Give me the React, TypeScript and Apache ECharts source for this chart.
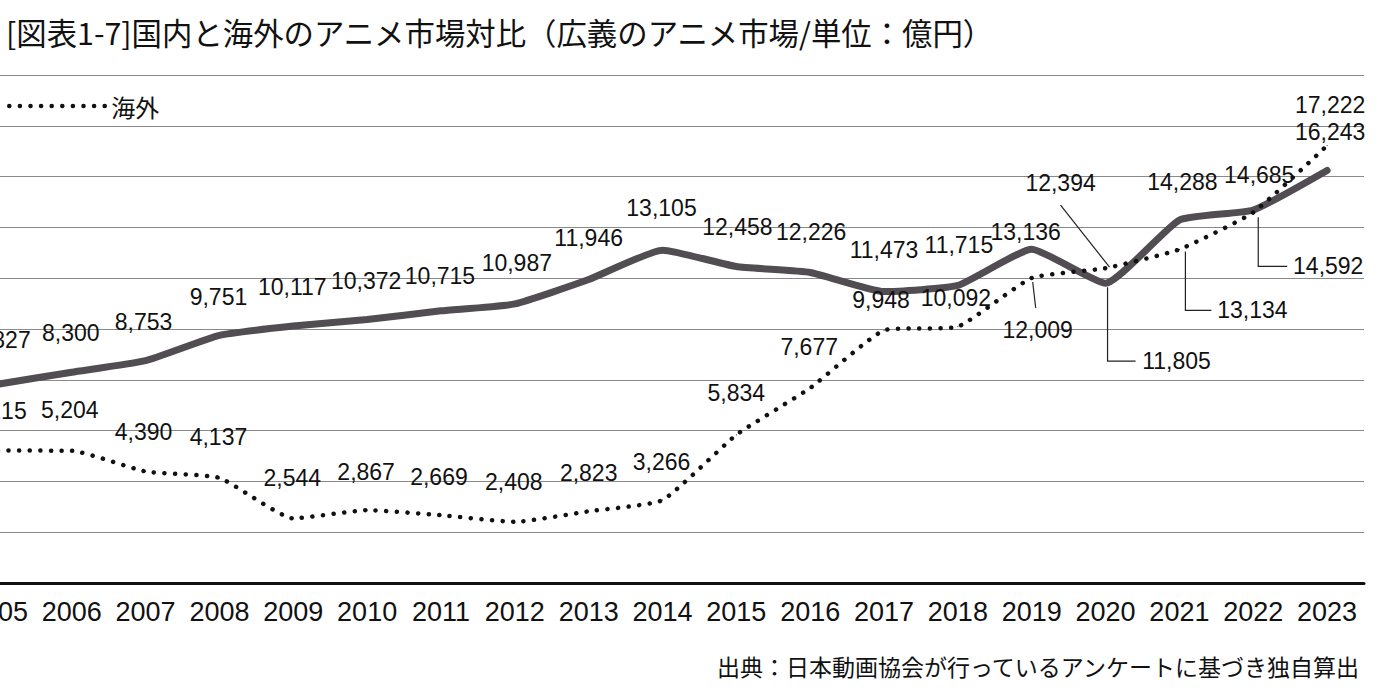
import React, { useEffect, useRef } from 'react';
import * as echarts from 'echarts';

const years = ['2005', '2006', '2007', '2008', '2009', '2010', '2011', '2012', '2013', '2014', '2015', '2016', '2017', '2018', '2019', '2020', '2021', '2022', '2023'];
const domestic = [7827, 8300, 8753, 9751, 10117, 10372, 10715, 10987, 11946, 13105, 12458, 12226, 11473, 11715, 13136, 11805, 14288, 14685, 16243];
const overseas = [5215, 5204, 4390, 4137, 2544, 2867, 2669, 2408, 2823, 3266, 5834, 7677, 9948, 10092, 12009, 12394, 13134, 14592, 17222];
const yMin = 0;
const yMax = 20000;
const yStep = 2000;

const titleText = '[図表1-7]国内と海外のアニメ市場対比（広義のアニメ市場/単位：億円）';
const sourceText = '出典：日本動画協会が行っているアンケートに基づき独自算出';

// label offsets (pixels, label centre relative to the point)
const domesticLabelOffsets: number[][] = [
  [4, -44], [-1, -39], [-2, -39], [-1, -38], [-1, -39], [-1, -39], [-1, -35], [2, -41], [0, -42], [-1, -42],
  [1, -40], [1, -40], [0, -42], [1, -40], [-6, -17], [71, 78], [3, -38], [6, -35], [3, -38],
];
const overseasLabelOffsets: number[][] = [
  [0, -40], [-2, -41], [-2, -39], [-1, -41], [-1, -40], [-1, -38], [-2, -38], [-1, -40], [0, -38], [-1, -38],
  [0, -42], [-1, -41], [-3, -30], [-2, -29], [6, 52], [-45, -85], [73, 61], [75, 54], [3, -41],
];
// leader lines (pixel points relative to the data point)
const domesticLeaders: Record<number, number[][]> = {
  15: [[2, 4], [2, 78], [30, 78]],
};
const overseasLeaders: Record<number, number[][]> = {
  14: [[1, 4], [4, 30]],
  15: [[4, -1], [-45, -63]],
  16: [[6, 2], [6, 61], [32, 61]],
  17: [[5, 5], [5, 54], [34, 54]],
};

const numFont = "'Liberation Sans', sans-serif";
const jpFont = "'Noto Sans CJK JP', sans-serif";
const SHIFT = 39;

const fmt = (v: number) => v.toLocaleString('en-US');

export default function App() {
  const ref = useRef<HTMLDivElement>(null);
  useEffect(() => {
    if (!ref.current) return;
    const chart = echarts.init(ref.current, undefined, { renderer: 'svg' });
    const labelBase = {
      show: true,
      position: 'inside',
      fontFamily: numFont,
      fontSize: 23,
      color: '#111',
      formatter: (p: any) => fmt(p.value),
    };
    const mk = (vals: number[], offs: number[][]) =>
      vals.map((v, i) => ({ value: v, label: { offset: offs[i] } }));
    chart.setOption({
      animation: false,
      backgroundColor: '#ffffff',
      title: [
        {
          text: titleText,
          left: SHIFT + 1,
          top: 12,
          textStyle: { fontFamily: jpFont, fontSize: 30.4, fontWeight: 'normal', color: '#111' },
        },
        {
          text: sourceText,
          right: 34,
          top: 649,
          textStyle: { fontFamily: jpFont, fontSize: 23, fontWeight: 'normal', color: '#111' },
        },
      ],
      legend: {
        data: ['海外'],
        left: SHIFT + 2,
        top: 89,
        itemWidth: 97,
        itemHeight: 24,
        itemGap: 10,
        itemStyle: { opacity: 0 },
        lineStyle: { color: '#111', width: 4.5, type: [0.1, 10.5], cap: 'round' },
        textStyle: { fontFamily: jpFont, fontSize: 24, color: '#111' },
      },
      grid: { left: 0, right: 36, top: 75, bottom: 117, containLabel: false },
      xAxis: {
        type: 'category',
        data: years,
        boundaryGap: true,
        axisLine: { lineStyle: { color: '#111', width: 3 } },
        axisTick: { inside: true, length: 8, lineStyle: { color: '#111', width: 2.5 } },
        axisLabel: { interval: 0, fontFamily: numFont, fontSize: 27, color: '#111', margin: 15 },
        splitLine: { show: false },
      },
      yAxis: {
        type: 'value',
        min: yMin,
        max: yMax,
        interval: yStep,
        axisLine: { show: false },
        axisTick: { show: false },
        axisLabel: { show: false },
        splitLine: { lineStyle: { color: '#8a8a8a', width: 1.2 } },
      },
      series: [
        {
          name: '国内',
          type: 'line',
          data: mk(domestic, domesticLabelOffsets),
          smooth: 0.15,
          symbol: 'circle',
          symbolSize: 1,
          itemStyle: { color: '#524c53' },
          lineStyle: { color: '#524c53', width: 7, cap: 'round', join: 'round' },
          label: labelBase,
          z: 3,
        },
        {
          name: '海外',
          type: 'line',
          data: mk(overseas, overseasLabelOffsets),
          smooth: 0.15,
          symbol: 'circle',
          symbolSize: 1,
          itemStyle: { color: '#111' },
          lineStyle: { color: '#111', width: 4.5, type: [0.1, 10.5], cap: 'round' },
          label: labelBase,
          z: 4,
        },
      ],
    });

    const graphics: any[] = [];
    const addLeaders = (seriesIndex: number, vals: number[], leaders: Record<number, number[][]>) => {
      Object.keys(leaders).forEach((k) => {
        const i = Number(k);
        const p = chart.convertToPixel({ seriesIndex }, [i, vals[i]]) as number[];
        graphics.push({
          type: 'polyline',
          shape: { points: leaders[i].map((d) => [p[0] + d[0], p[1] + d[1]]) },
          style: { stroke: '#222', lineWidth: 1.2, fill: null },
          z: 10,
        });
      });
    };
    addLeaders(0, domestic, domesticLeaders);
    addLeaders(1, overseas, overseasLeaders);
    chart.setOption({ graphic: graphics });

    return () => chart.dispose();
  }, []);
  return (
    <div style={{ position: 'fixed', left: 0, top: 0, width: 1400, height: 700, background: '#fff', overflow: 'hidden' }}>
      <div ref={ref} style={{ position: 'absolute', left: -SHIFT, top: 0, width: 1400 + SHIFT, height: 700 }} />
    </div>
  );
}
